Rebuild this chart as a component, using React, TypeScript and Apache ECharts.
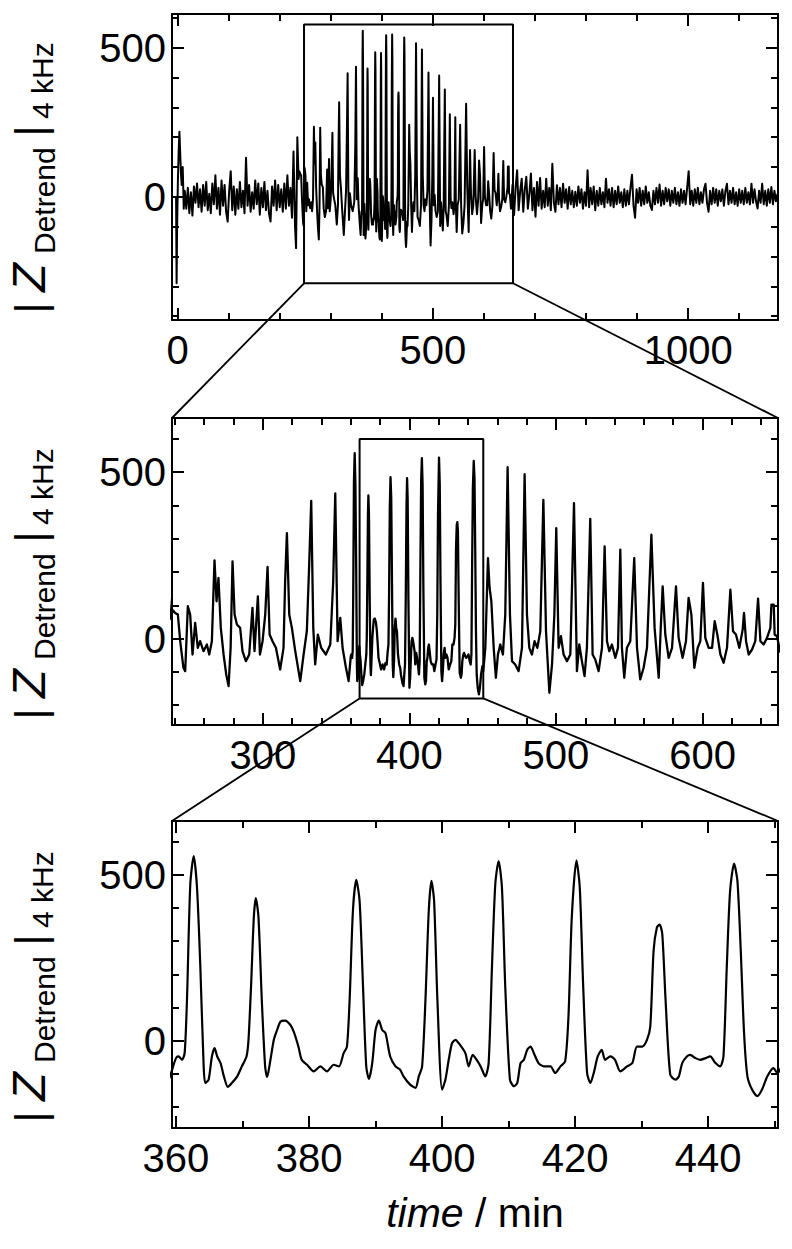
import React, { useEffect, useRef } from "react";
import * as echarts from "echarts";

// ---------------- data (time in min, |Z| detrended at 4 kHz) ----------------
const startBlip: [number, number][] = [
  [-3, 0], [-2, -290], [-1, -100], [0.5, 50], [2, 150], [3.5, 218], [5, 150], [6.5, 80], [8, 40], [10, 100], [12, -40],
];
const noiseLeftStart = 14;
const noiseStep = 3;
const noiseLeft: number[] = [
  20, -40, 30, -55, 15, -63, 35, -20, 45, -35, 25, -50, 40, -30, 50, -45, 10, -55, 45, -25, 72, -40, 30, -60,
  55, -30, 40, -50, -83, 20, 86, -45, 35, -60, 25, -40, 50, -35, 20, -55, 131, -30, 40, -50, 15, -40, 55, -25,
  45, -60, 30, -35, 50, -45, 20, -55, -83, 35, -30, 55, -45, 40, -35, 25, -50, 45, -40, 72, -30, 30, -70, 152,
];
const preOnset: [number, number][] = [[230, -100], [232, -172], [234.5, 200], [237, 60], [238.6, 85]];
const oscEarly: [number, number][] = [
  [240.2, 77], [242, 72], [243.6, -8], [245.8, -88], [247, -98], [248.8, 97], [250.4, 72], [252, -48], [253.8, 47],
  [255.6, -28], [257.2, -8], [259.5, -38], [261.8, -18], [263.4, -48], [265.2, -8], [267, 235], [268.4, 112],
  [269.7, 182], [271.3, 32], [273.2, -48], [275, -108], [276.6, -143], [278, -28], [279.3, 232], [280.7, 72],
  [282.3, 42], [284.5, 32], [286.1, -38], [288.4, -68], [290.7, -48], [292.9, 92], [294.3, -38], [296.6, 127],
  [298, -48], [299.8, -8], [301.6, 72], [303.2, 215], [304.6, 12], [306.6, -8], [308.9, -28], [311.8, -93],
  [314.1, -28], [315.2, 172], [316.4, 317], [318, 72], [319.8, 32], [322.1, -38], [325.5, -128], [327.8, -48],
  [330, 22], [331.6, 222], [333, 414], [334.4, 32], [335.7, -78], [337.5, 12], [339.8, -28], [343, -48],
  [346, -18], [348, 172], [349.4, 436], [351, -8], [352.8, 62], [354.4, -28], [356.7, -88], [358.5, -128],
];
const oscDetail: [number, number][] = [
  [360, -53], [360.4, -48], [360.9, -58], [361.3, -38], [361.65, 122], [362.15, 472], [362.66, 557], [363.16, 462],
  [363.66, 222], [364.16, -78], [364.4, -128], [364.9, -118], [365.4, -48], [365.8, -23], [366.2, -48], [366.7, -68],
  [367.2, -108], [367.8, -140], [368.4, -128], [369.2, -108], [369.9, -78], [370.6, -48], [370.9, 2], [371.3, 172],
  [371.7, 372], [372.0, 430], [372.4, 372], [372.9, 122], [373.4, -78], [373.7, -110], [374.2, -58], [374.7, 2],
  [375.2, 32], [375.7, 57], [376.4, 60], [377.2, 47], [377.7, 27], [378.4, -18], [378.9, -58], [379.7, -73],
  [380.7, -93], [381.7, -78], [382.7, -93], [383.7, -73], [384.5, -78], [385.2, -38], [385.7, -18], [386.1, 122],
  [386.6, 392], [387.1, 485], [387.6, 422], [388.1, 172], [388.6, -78], [389.0, -116], [389.5, -68], [390.0, 32],
  [390.5, 60], [391.0, 32], [391.5, 22], [392.2, -48], [393.0, -78], [393.7, -88], [394.2, -108], [395.2, -133],
  [396.0, -143], [396.5, -108], [397.0, -78], [397.5, 122], [398.0, 392], [398.4, 482], [398.8, 422], [399.3, 122],
  [400.0, -148], [400.5, -118], [401.0, -58], [401.5, -8], [402.0, 2], [402.7, -13], [403.5, -38], [404.0, -78],
  [404.6, -43], [405.2, -58], [405.8, -78], [406.5, -108], [407.0, -68], [407.5, 222], [408.0, 472], [408.5, 542],
  [409.0, 462], [409.5, 162], [410.2, -118], [410.8, -138], [411.3, -128], [411.8, -68], [412.3, -58], [412.8, -28],
  [413.3, -18], [413.8, -38], [414.5, -68], [415.3, -78], [416.3, -78], [417.0, -98], [417.8, -78], [418.5, -63],
  [419.0, 72], [419.5, 372], [420.2, 544], [420.7, 462], [421.2, 172], [421.8, -98], [422.3, -128], [422.8, -98],
  [423.4, -48], [424.0, -28], [424.5, -58], [425.3, -48], [426.0, -58], [426.8, -93], [427.8, -78], [428.6, -68],
  [429.3, -18], [430.1, -18], [430.8, 2], [431.3, 42], [431.8, 272], [432.3, 342], [432.7, 350], [433.1, 322],
  [433.6, 122], [434.3, -103], [435.1, -118], [435.6, -108], [436.1, -68], [436.8, -48], [437.3, -43], [438.1, -53],
  [438.8, -58], [439.6, -53], [440.3, -48], [441.1, -68], [441.8, -78], [442.3, -48], [442.8, 222], [443.3, 452],
  [443.9, 534], [444.4, 482], [444.9, 272], [445.4, 22], [445.9, -108], [446.6, -148], [447.4, -168], [448.1, -148],
  [448.9, -108], [449.8, -83], [450.4, -98],
];
const oscLate: [number, number][] = [
  [451.8, -28], [453.6, 242], [454.7, 152], [455.9, 112], [457.5, -28], [459, -118], [460.4, -48], [462, -18],
  [463.8, -48], [465.4, 72], [467, 515], [468.6, 72], [470, -68], [472.2, -78], [474.5, -98], [476.8, -28],
  [478.6, 494], [480.2, 72], [481.8, -28], [483.6, -48], [485.4, -8], [487.3, -28], [489.3, 22], [491.4, 417],
  [493.2, 22], [495.5, -163], [497.3, -78], [498.9, 72], [500.2, 332], [501.8, -28], [503.4, 7], [505.2, -48],
  [507.5, -68], [509.8, -48], [512.3, 407], [514.3, -98], [515.9, -18], [517.7, -68], [519.5, -113], [521.1, -28],
  [523.4, 360], [525, -48], [526.8, -63], [529.1, -98], [531.4, -28], [533.2, 277], [534.8, -8], [536.4, -38],
  [538.2, -18], [540.5, -58], [542.3, -28], [543.9, 267], [545, -28], [546.6, -118], [548.4, -28], [550.7, -8],
  [553.4, 242], [555.3, -28], [557.5, -123], [559.8, -88], [562.1, -28], [565.1, 312], [567.3, 32], [570.1, -118],
  [571.4, 22], [572.8, 157], [574.6, 12], [576.9, -58], [579.2, -28], [581.9, 157], [583.7, 2], [586.4, -58],
  [588.7, -8], [590.5, 122], [592.4, 72], [594.4, -88], [596.7, -28], [598.5, -8], [600.3, 167], [601.9, 2],
  [604.2, -28], [606.5, -28], [608.3, 52], [610.1, 12], [612.2, -48], [614.4, -73], [616.7, -28], [619, 147],
  [620.8, 22], [622.8, 12], [625.1, -28], [627.4, 27], [628.3, 77], [629.7, -8], [631.5, -48], [633.8, -33],
  [636, -8], [637.9, 120], [639.5, -8], [641.7, -18], [644, 2], [646.3, 32], [647, 102], [648.6, 102],
  [649.2, 12], [650.8, 7],
];
const noiseRightStart = 653;
const noiseRight: number[] = [
  -40, 40, -61, 30, 89, -45, 20, 61, -50, 25, 67, -40, 10, 78, -45, 30, -67, 50, -30, 63, -40, 20, -35, 61,
  -30, 30, -45, 111, -20, -50, 39, -25, 30, -35, 44, -20, 25, -40, 33, -25, 20, -35, 17, -30, 35, -20, 25, -40,
  15, -30, 89, -35, 30, -25, 35, -45, 20, -30, 30, -25, 15, -35, 61, -20, 25, -30, 30, -35, 20, -25, 35, -20,
  15, -35, 25, -30, 20, -25, 30, 74, -30, -70, 25, -20, 30, -30, 20, -25, 35, -20, 15, -30, -44, 20, -25, 30,
  -20, 41, -30, 20, -25, 30, -15, 25, -30, 20, -20, 30, -25, 15, -30, 25, -20, 20, -25, 30, 86, -25, 20, -30,
  25, -20, 30, -25, 15, -20, 25, 44, -20, -50, 20, -25, 30, -20, 25, -30, 20, -15, 25, -30, 20, 44, -25, 20,
  -20, 30, -25, 15, -30, 25, -20, 20, -25, 30, -20, 15, -25, 44, -20, 25, -15, -39, 20, -20, 44, -25, 20, -30,
  25, -20, 33, -25, 20, -15, 10,
];

// axis extents and ticks per panel
const panelXRange: [number, number][] = [[-11, 1176], [238, 651.5], [359.4, 450.5]];
const panelYRange: [number, number][] = [[-413, 613], [-260, 663], [-264, 663]];
const xMajor = [500, 100, 20];
const xMinorSplit = [5, 5, 2];
const yMajor = [500, 500, 500];
const yMinorSplit = [5, 5, 5];
// zoom boxes (in panel 1 and panel 2 data units)
const zoomBoxX: [number, number][] = [[247.6, 656.9], [366, 450.4]];
const zoomBoxY: [number, number][] = [[-290, 578], [-180, 600]];

const FONT = '"Liberation Sans", Arial, Helvetica, sans-serif';
const GRIDS = [
  { left: 172, top: 14, width: 606, height: 306 },
  { left: 172, top: 418, width: 606, height: 307 },
  { left: 172, top: 821, width: 606, height: 307 },
];
const LABEL_CY = [169, 575, 978];
const LINE_W = [2, 2.3, 2.2];
const SMOOTH = [false, false, 0.25];

function buildSeries(): [number, number][] {
  const pts: [number, number][] = [];
  startBlip.forEach((p) => pts.push(p));
  noiseLeft.forEach((v, i) => pts.push([noiseLeftStart + i * noiseStep, v]));
  preOnset.forEach((p) => pts.push(p));
  oscEarly.forEach((p) => pts.push(p));
  oscDetail.forEach((p) => pts.push(p));
  oscLate.forEach((p) => pts.push(p));
  noiseRight.forEach((v, i) => pts.push([noiseRightStart + i * noiseStep, v]));
  return pts;
}

function yLabel(cy: number) {
  const c = 0.3465;
  const t = (x: number, base: number, text: string, fs: number, align: string, italic = false) => ({
    type: "text",
    x,
    y: base - c * fs,
    style: {
      text,
      fontSize: fs,
      fontFamily: FONT,
      fontStyle: italic ? "italic" : "normal",
      fill: "#000",
      align,
      verticalAlign: "middle",
    },
  });
  return {
    type: "group",
    x: 45,
    y: cy,
    rotation: Math.PI / 2,
    silent: true,
    children: [
      t(-139, 0, "|", 42, "center"),
      t(-123, 0, "Z", 47, "left", true),
      t(-85, 10, "Detrend", 30, "left"),
      t(38, 0, "|", 42, "center"),
      t(50, 8, "4 kHz", 30, "left"),
    ],
  };
}

export default function App() {
  const ref = useRef<HTMLDivElement>(null);
  useEffect(() => {
    if (!ref.current) return;
    const chart = echarts.init(ref.current, undefined, { renderer: "svg" });
    const data = buildSeries();
    const black = "#000";
    const xAxes: any[] = [];
    const yAxes: any[] = [];
    const series: any[] = [];
    const fmt = (v: number) => String(v);
    for (let i = 0; i < 3; i++) {
      const common = (major: number, split: number, range: [number, number]) => ({
        gridIndex: i,
        type: "value",
        min: range[0],
        max: range[1],
        minInterval: major,
        maxInterval: major,
        splitLine: { show: false },
        axisLine: { show: true, onZero: false, lineStyle: { color: black, width: 2 } },
        axisTick: { show: true, inside: true, length: 12, lineStyle: { color: black, width: 2 } },
        minorTick: { show: true, splitNumber: split, length: 7, lineStyle: { color: black, width: 2 } },
      });
      xAxes.push({
        ...common(xMajor[i], xMinorSplit[i], panelXRange[i]),
        position: "bottom",
        axisLabel: {
          show: true, showMinLabel: false, showMaxLabel: false, fontSize: 40, fontFamily: FONT,
          color: black, margin: 10, formatter: fmt,
        },
        ...(i === 2
          ? {
              name: "{i|time} / min",
              nameLocation: "middle",
              nameGap: 64,
              nameTextStyle: {
                fontSize: 41, fontFamily: FONT, color: black,
                rich: { i: { fontSize: 41, fontFamily: FONT, color: black, fontStyle: "italic" } },
              },
            }
          : {}),
      });
      xAxes.push({
        ...common(xMajor[i], xMinorSplit[i], panelXRange[i]),
        position: "top",
        axisLabel: { show: false },
      });
      yAxes.push({
        ...common(yMajor[i], yMinorSplit[i], panelYRange[i]),
        position: "left",
        axisLabel: {
          show: true, showMinLabel: false, showMaxLabel: false, fontSize: 40, fontFamily: FONT,
          color: black, margin: 6, formatter: fmt,
        },
      });
      yAxes.push({
        ...common(yMajor[i], yMinorSplit[i], panelYRange[i]),
        position: "right",
        axisLabel: { show: false },
      });
      series.push({
        type: "line",
        xAxisIndex: 2 * i,
        yAxisIndex: 2 * i,
        data,
        showSymbol: false,
        symbol: "none",
        clip: true,
        smooth: SMOOTH[i],
        lineStyle: { color: black, width: LINE_W[i], join: "round" },
        z: 2,
      });
    }
    for (let b = 0; b < 2; b++) {
      const [x0, x1] = zoomBoxX[b];
      const [y0, y1] = zoomBoxY[b];
      series.push({
        type: "line",
        xAxisIndex: 2 * b,
        yAxisIndex: 2 * b,
        data: [[x0, y0], [x1, y0], [x1, y1], [x0, y1], [x0, y0]],
        showSymbol: false,
        symbol: "none",
        lineStyle: { color: black, width: 2 },
        z: 3,
      });
    }
    chart.setOption({
      animation: false,
      backgroundColor: "#fff",
      grid: GRIDS.map((g) => ({ ...g, containLabel: false })),
      xAxis: xAxes,
      yAxis: yAxes,
      series,
    });

    const graphics: any[] = LABEL_CY.map((cy) => yLabel(cy));
    for (let b = 0; b < 2; b++) {
      const src = { xAxisIndex: 2 * b, yAxisIndex: 2 * b };
      const dst = { xAxisIndex: 2 * (b + 1), yAxisIndex: 2 * (b + 1) };
      const bl = chart.convertToPixel(src, [zoomBoxX[b][0], zoomBoxY[b][0]]) as number[];
      const br = chart.convertToPixel(src, [zoomBoxX[b][1], zoomBoxY[b][0]]) as number[];
      const tl = chart.convertToPixel(dst, [panelXRange[b + 1][0], panelYRange[b + 1][1]]) as number[];
      const tr = chart.convertToPixel(dst, [panelXRange[b + 1][1], panelYRange[b + 1][1]]) as number[];
      [[bl, tl], [br, tr]].forEach(([p, q]) => {
        graphics.push({
          type: "line",
          silent: true,
          shape: { x1: p[0], y1: p[1], x2: q[0], y2: q[1] },
          style: { stroke: black, lineWidth: 1.8 },
          z: 10,
        });
      });
    }
    chart.setOption({ graphic: graphics });
    return () => chart.dispose();
  }, []);
  return (
    <div
      ref={ref}
      style={{ position: "absolute", left: 0, top: 0, width: 792, height: 1249, background: "#fff" }}
    />
  );
}
